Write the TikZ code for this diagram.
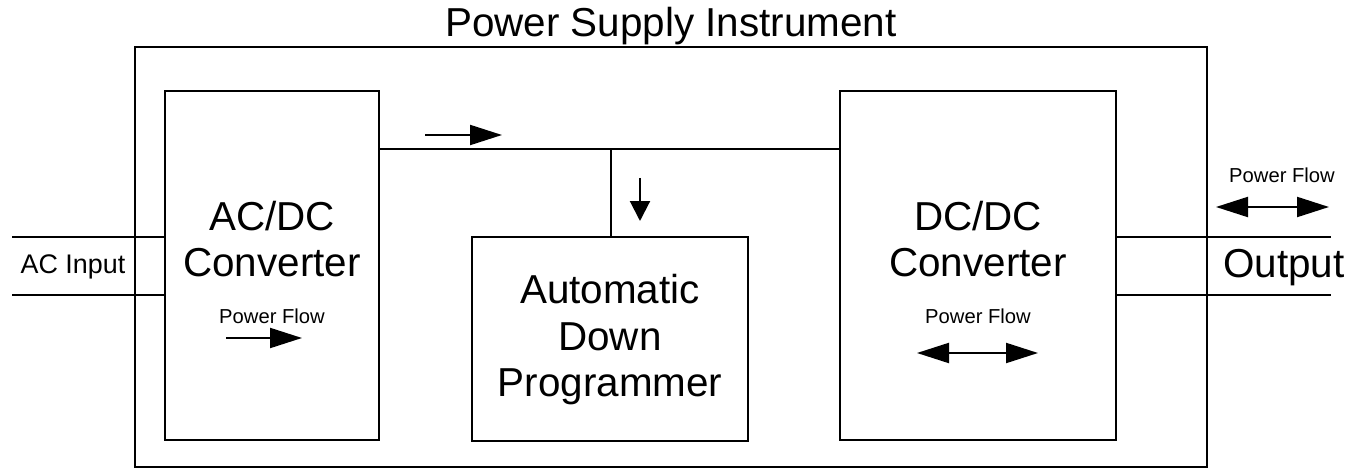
\documentclass[tikz,border=0pt]{standalone}
\usepackage{fontspec}
\setmainfont{Liberation Sans}
\usetikzlibrary{arrows.meta}

\tikzset{
  blockbox/.style={draw, line width=1.2pt, inner sep=0pt},
  wire/.style={line width=1.2pt},
  bigtext/.style={font=\fontsize{23}{26.5}\selectfont, align=center, anchor=base, inner sep=0pt},
  midtext/.style={font=\fontsize{15.3}{18}\selectfont, anchor=base, inner sep=0pt},
  flowtext/.style={font=\fontsize{11.5}{13}\selectfont, anchor=base, inner sep=0pt},
  flowarrow/.style={line width=1.2pt, -{Triangle[length=0.64cm, width=0.4cm]}},
  twoarrow/.style={line width=1.2pt, {Triangle[length=0.64cm, width=0.4cm]}-{Triangle[length=0.64cm, width=0.4cm]}},
  downarrow/.style={line width=1.2pt, -{Triangle[length=0.4cm, width=0.4cm]}},
}

\begin{document}
\begin{tikzpicture}[x=0.02cm, y=-0.02cm]
  \useasboundingbox (0,0) rectangle (1350,469);

  % -- Instrument frame --
  \node[blockbox, minimum width=21.44cm, minimum height=8.4cm] (frame) at (671,257) {};
  \node[bigtext] (title) at (671,37) {Power Supply Instrument};

  % -- Blocks --
  \node[blockbox, minimum width=4.28cm, minimum height=6.98cm] (acdc) at (272,265.5) {};
  \node[blockbox, minimum width=5.52cm, minimum height=4.08cm] (adp) at (610,339) {};
  \node[blockbox, minimum width=5.52cm, minimum height=6.98cm] (dcdc) at (978,265.5) {};

  % (base anchor sits on the last line)
  \node[bigtext] (acdclabel) at (272,277) {AC/DC\\Converter};
  \node[bigtext] (adplabel) at (610,397) {Automatic\\Down\\Programmer};
  \node[bigtext] (dcdclabel) at (978,277) {DC/DC\\Converter};

  % -- DC bus --
  \coordinate (bus) at (611,149);
  \draw[wire] (acdc.east |- bus) -- (dcdc.west |- bus);
  \draw[wire] (bus) -- (bus |- adp.north);
  \draw[flowarrow] (425,135) -- (502,135);
  \draw[downarrow] (640,178) -- (640,221);

  % -- AC input --
  \coordinate (acin1) at (12,237);
  \coordinate (acin2) at (12,295);
  \draw[wire] (acin1) -- (acin1 -| acdc.west);
  \draw[wire] (acin2) -- (acin2 -| acdc.west);
  \node[midtext] (aclabel) at (73,274) {AC Input};

  % -- Output --
  \coordinate (out1) at (1331,237);
  \coordinate (out2) at (1331,295);
  \draw[wire] (dcdc.east |- out1) -- (out1);
  \draw[wire] (dcdc.east |- out2) -- (out2);
  \node[bigtext] (outlabel) at (1284,278) {Output};

  % -- Power flow marks --
  \node[flowtext] (acdcflow) at (272,324) {Power Flow};
  \draw[flowarrow] (226,338) -- (302,338);
  \node[flowtext] (dcdcflow) at (978,324) {Power Flow};
  \draw[twoarrow] (917,353) -- (1038,353);
  \node[flowtext] (outflow) at (1282,183) {Power Flow};
  \draw[twoarrow] (1216,207) -- (1329,207);

\end{tikzpicture}
\end{document}
